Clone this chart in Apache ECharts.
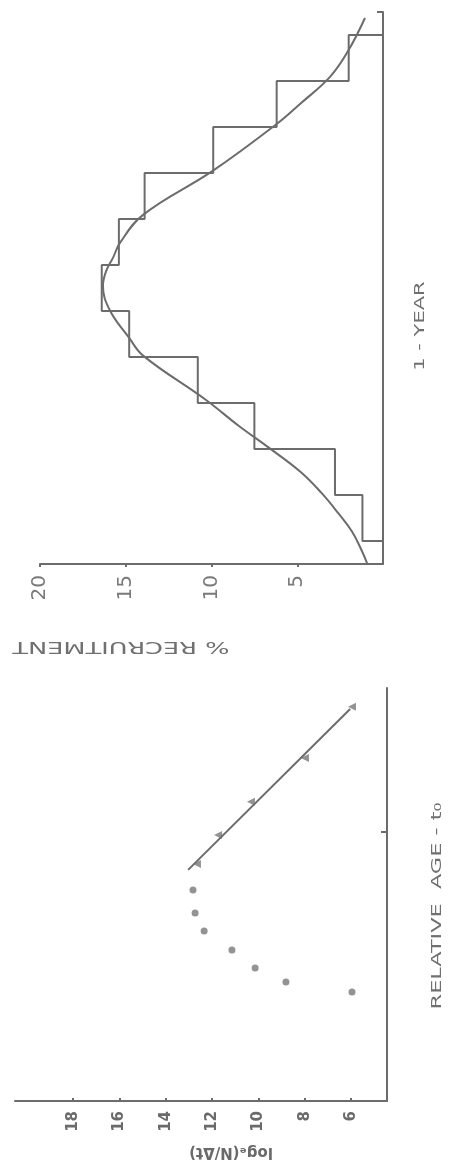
<!DOCTYPE html>
<html>
<head>
<meta charset="utf-8">
<script src="https://cdn.jsdelivr.net/npm/echarts@6/dist/echarts.min.js"></script>
<style>
  html, body { margin: 0; padding: 0; background: #fff; }
  #chart { width: 452px; height: 1176px; }
</style>
</head>
<body>
<div id="chart"></div>
<script>
// Recruitment pattern over one year: % recruited per time bin
const binEdges = [0.5, 1.5, 2.5, 3.5, 4.5, 5.5, 6.5, 7.5, 8.5, 9.5, 10.5, 11.5];
const recruitPct = [1.2, 2.8, 7.5, 10.8, 14.8, 16.4, 15.4, 13.9, 9.9, 6.2, 2.0];
// fitted recruitment curve (time position, %)
const curvePos = [0.02, 0.3, 0.7, 1.1, 1.55, 2.0, 2.54, 3.0, 3.56, 4.53, 4.92, 5.51, 6.05, 6.36, 6.66, 6.98, 7.59, 8.55, 9.57, 10.0, 10.59, 11.15, 11.87];
const curvePct = [0.93, 1.25, 1.8, 2.6, 3.6, 4.8, 6.7, 8.4, 10.3, 13.99, 14.81, 15.92, 16.33, 16.15, 15.74, 15.34, 13.99, 9.91, 6.18, 4.84, 3.09, 2.04, 1.05];
const recruitTicks = [5, 10, 15, 20];

// Length-converted catch curve: log_e(N/dt) against relative age
const ageOpen = [0.405, 0.442, 0.494, 0.561, 0.632, 0.699, 0.784];
const logOpen = [5.96, 8.81, 10.14, 11.14, 12.34, 12.73, 12.82];
const ageUsed = [0.881, 0.989, 1.112, 1.275, 1.465];
const logUsed = [12.65, 11.74, 10.32, 7.99, 5.96];
const fitAge = [0.859, 1.457];
const fitLog = [13.03, 6.04];
const logTicks = [6, 8, 10, 12, 14, 16, 18];

const INK = '#6c6c6c';
const FONT = 'DejaVu Sans';

// step outline of the recruitment histogram
const outline = [[0, binEdges[0]]];
recruitPct.forEach((v, i) => {
  outline.push([v, binEdges[i]], [v, binEdges[i + 1]]);
});
outline.push([0, binEdges[binEdges.length - 1]]);

const curve = curvePos.map((p, i) => [curvePct[i], p]);
const openPts = ageOpen.map((a, i) => [logOpen[i], a]);
const usedPts = ageUsed.map((a, i) => [logUsed[i], a]);
const fitPts = fitAge.map((a, i) => [fitLog[i], a]);

const axisLine = { show: true, onZero: false, lineStyle: { color: INK, width: 2 } };

const chart = echarts.init(document.getElementById('chart'), null, { renderer: 'canvas' });
chart.setOption({
  animation: false,
  backgroundColor: '#fff',
  grid: [
    { left: 40, right: 69, top: 12, height: 552 },
    { left: 15, right: 65, top: 688, height: 413 }
  ],
  xAxis: [
    {
      gridIndex: 0, type: 'value', inverse: true, min: 0, max: 20, position: 'bottom',
      axisLine: axisLine,
      axisTick: { show: true, length: 3, customValues: recruitTicks, lineStyle: { color: INK, width: 2 } },
      axisLabel: { show: true, rotate: 90, margin: 11, customValues: recruitTicks,
        color: '#7a7a7a', fontFamily: FONT, fontSize: 20 },
      splitLine: { show: false }
    },
    {
      gridIndex: 1, type: 'value', inverse: true, min: 4.45, max: 20.5, position: 'bottom',
      axisLine: axisLine,
      axisTick: { show: true, inside: true, length: 3, customValues: logTicks, lineStyle: { color: INK, width: 2 } },
      axisLabel: { show: true, rotate: 90, margin: 10, customValues: logTicks,
        color: '#6a6a6a', fontFamily: FONT, fontSize: 15, fontWeight: 'bold' },
      splitLine: { show: false }
    }
  ],
  yAxis: [
    {
      gridIndex: 0, type: 'value', position: 'right', min: 0, max: 12,
      axisLine: axisLine,
      axisTick: { show: true, inside: true, length: 6, customValues: [12], lineStyle: { color: INK, width: 2 } },
      axisLabel: { show: false },
      splitLine: { show: false }
    },
    {
      gridIndex: 1, type: 'value', position: 'right', min: 0, max: 1.535,
      axisLine: axisLine,
      axisTick: { show: true, inside: true, length: 6, customValues: [1], lineStyle: { color: INK, width: 2 } },
      axisLabel: { show: false },
      splitLine: { show: false }
    }
  ],
  series: [
    {
      name: 'recruitment', type: 'line', xAxisIndex: 0, yAxisIndex: 0,
      data: outline, symbol: 'none', lineStyle: { color: INK, width: 2 }
    },
    {
      name: 'recruitment curve', type: 'line', xAxisIndex: 0, yAxisIndex: 0,
      data: curve, symbol: 'none', smooth: 0.4, lineStyle: { color: INK, width: 2 }
    },
    {
      name: 'not used', type: 'scatter', xAxisIndex: 1, yAxisIndex: 1,
      data: openPts, symbol: 'circle', symbolSize: 7, itemStyle: { color: '#787878' }
    },
    {
      name: 'regression', type: 'line', xAxisIndex: 1, yAxisIndex: 1,
      data: fitPts, symbol: 'none', lineStyle: { color: INK, width: 2 }
    },
    {
      name: 'used', type: 'scatter', xAxisIndex: 1, yAxisIndex: 1,
      data: usedPts, symbol: 'triangle', symbolRotate: 90, symbolSize: 8, itemStyle: { color: '#787878' }
    }
  ],
  graphic: [
    {
      type: 'text', x: 121, y: 646, rotation: Math.PI, scaleX: 1.6,
      style: { text: '% RECRUITMENT', fill: '#707070', font: '16px "DejaVu Sans"', align: 'center', verticalAlign: 'middle' }
    },
    {
      type: 'text', x: 420, y: 326, rotation: Math.PI / 2, scaleX: 1.5,
      style: { text: '1 - YEAR', fill: '#707070', font: '14px "DejaVu Sans"', align: 'center', verticalAlign: 'middle' }
    },
    {
      type: 'text', x: 437, y: 906, rotation: Math.PI / 2, scaleX: 1.6,
      style: { text: 'RELATIVE  AGE - t\u2080', fill: '#707070', font: '14px "DejaVu Sans"', align: 'center', verticalAlign: 'middle' }
    },
    {
      type: 'text', x: 231, y: 1152, rotation: Math.PI,
      style: { text: 'log\u2091(N/\u0394t)', fill: '#6a6a6a', font: 'bold 15px "DejaVu Sans"', align: 'center', verticalAlign: 'middle' }
    }
  ]
});
</script>
</body>
</html>
